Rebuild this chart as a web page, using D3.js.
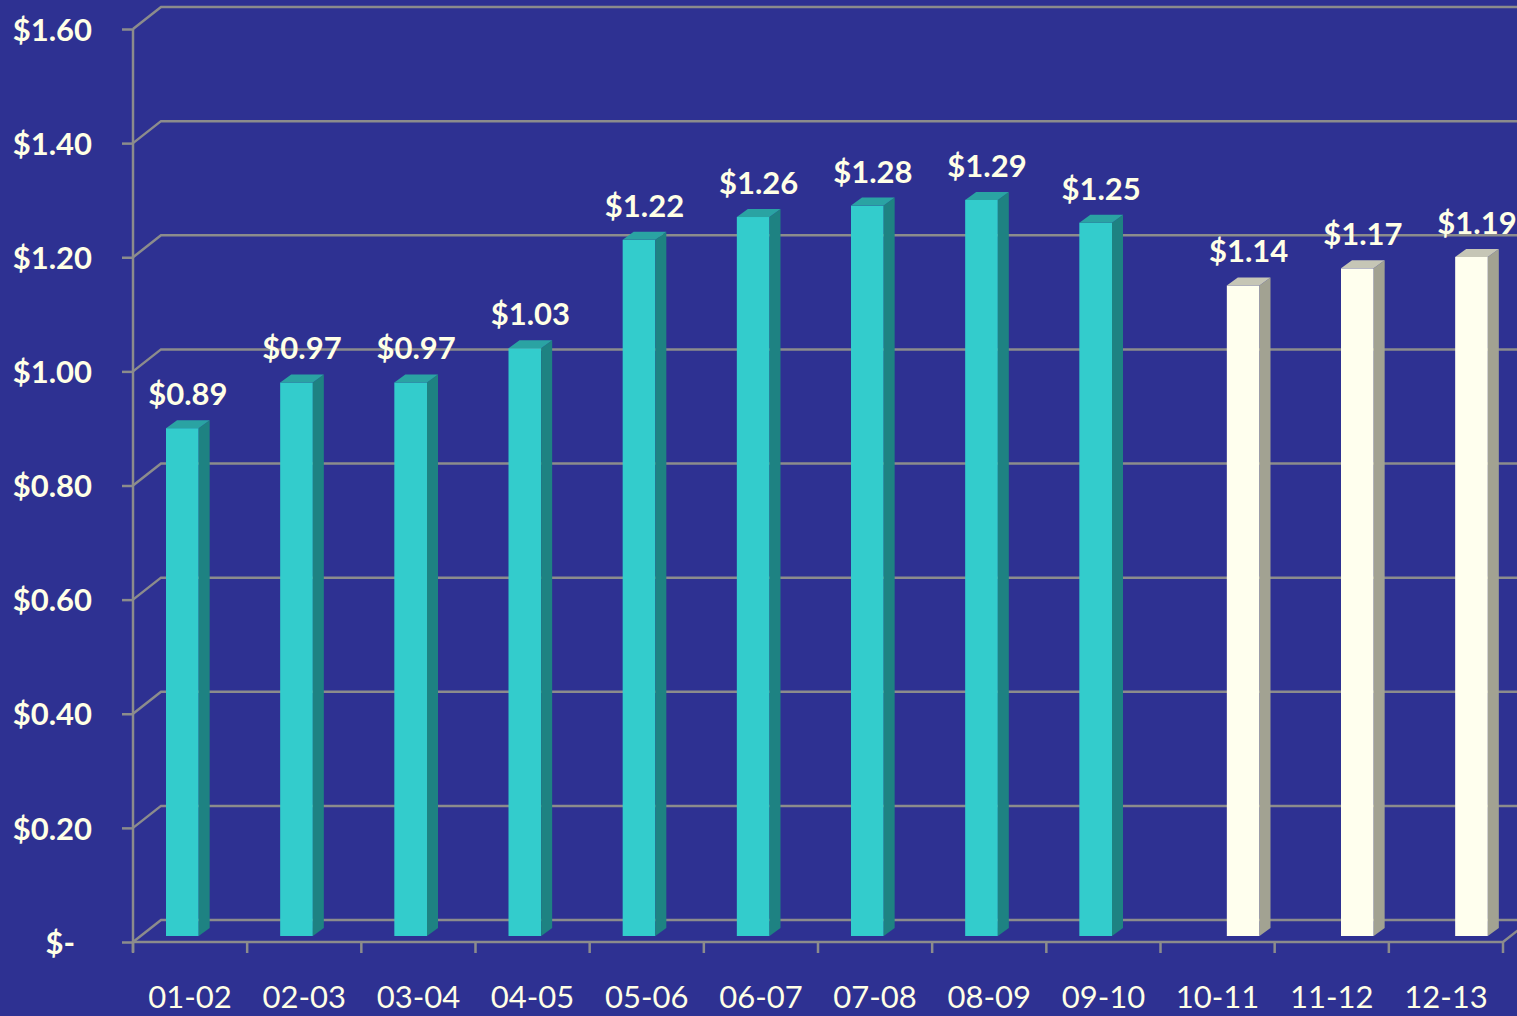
<!DOCTYPE html>
<html>
<head>
<meta charset="utf-8">
<script src="https://cdn.jsdelivr.net/npm/d3@7"></script>
<style>
  html, body { margin: 0; padding: 0; background: #2E3192; overflow: hidden; }
  text { font-family: Lato, "Open Sans", sans-serif; fill: #FFFFE6; }
</style>
</head>
<body>
<svg id="chart" width="1517" height="1016"></svg>
<script>
// data
const seasons = ["01-02","02-03","03-04","04-05","05-06","06-07","07-08","08-09","09-10","10-11","11-12","12-13"];
const actual = [0.89, 0.97, 0.97, 1.03, 1.22, 1.26, 1.28, 1.29, 1.25, null, null, null];
const projected = [null, null, null, null, null, null, null, null, null, 1.14, 1.17, 1.19];
const yTicks = [0, 0.2, 0.4, 0.6, 0.8, 1.0, 1.2, 1.4, 1.6];

const W = 1517, H = 1016;
const left = 133, right = 1503, floorY = 942, topY = 29;
const wallDx = 28, wallDy = 22;   // depth of back wall
const barDx = 11, barDy = 8;      // depth of each bar
const barLift = 6;                // bars sit slightly behind the front edge

const svg = d3.select("#chart");
svg.append("rect").attr("width", W).attr("height", H).attr("fill", "#2E3192");

const y = d3.scaleLinear().domain([0, 1.6]).range([floorY, topY]);
const x0 = d3.scaleBand().domain(seasons).range([left, right]).padding(0);
const x1 = d3.scaleBand().domain(["actual", "projected"]).range([33, 99]).paddingInner(0.02);

const grid = svg.append("g").attr("stroke", "#8C8C8C").attr("stroke-width", 2.5).attr("fill", "none");

// back wall gridlines + diagonals on the left wall
yTicks.forEach(v => {
  const fy = y(v), by = y(v) - wallDy;
  if (v > 0) {
    grid.append("path").attr("d", `M${left},${fy}L${left + wallDx},${by}L${W + 5},${by}`);
  }
});
// floor
grid.append("path").attr("d", `M${left},${floorY}L${left + wallDx},${floorY - wallDy}L${W + 5},${floorY - wallDy}`);
grid.append("path").attr("d", `M${left},${floorY}L${right},${floorY}L${right + wallDx},${floorY - wallDy}`);

// y axis
const yAxis = d3.axisLeft(y).tickValues(yTicks).tickSize(11).tickPadding(0)
  .tickFormat(v => v === 0 ? "$-" : "$" + v.toFixed(2));
const gy = svg.append("g").attr("transform", `translate(${left},0)`).call(yAxis);
gy.select(".domain").attr("stroke", "#8C8C8C").attr("stroke-width", 2.5)
  .attr("d", `M0,${topY}V${floorY + 10}`);
gy.selectAll(".tick line").attr("stroke", "#8C8C8C").attr("stroke-width", 2.5);
gy.selectAll(".tick text")
  .attr("x", d => d === 0 ? -58 : -41)
  .attr("dy", "0.36em")
  .attr("fill", "#FFFFE6")
  .style("font-size", "31px").style("font-weight", "700");

// x axis: ticks on band boundaries, labels centred
const gx = svg.append("g").attr("transform", `translate(0,${floorY})`)
  .call(d3.axisBottom(x0).tickSize(0).tickPadding(0));
gx.select(".domain").remove();
gx.selectAll(".tick text").attr("y", 66).attr("dy", 0)
  .attr("fill", "#FFFFE6").style("font-size", "31px").style("font-weight", "400");
const bounds = seasons.map(s => x0(s)).concat([x0(seasons[seasons.length - 1]) + x0.bandwidth()]);
svg.append("g").selectAll("line").data(bounds).join("line")
  .attr("x1", d => d).attr("x2", d => d)
  .attr("y1", floorY).attr("y2", floorY + 11)
  .attr("stroke", "#8C8C8C").attr("stroke-width", 2.5);

// bars
const styles = {
  actual:    { front: "#33CCCC", side: "#1E8282", top: "#2AA3A3" },
  projected: { front: "#FFFFEE", side: "#A2A292", top: "#C6C6B6" }
};
const bars = [];
seasons.forEach((s, i) => {
  if (actual[i] != null) bars.push({ s, key: "actual", v: actual[i] });
  if (projected[i] != null) bars.push({ s, key: "projected", v: projected[i] });
});

const base = y(0) - barLift;
const bh = v => y(0) - y(v);
const bw = x1.bandwidth();

const g = svg.append("g").selectAll("g").data(bars).join("g");
g.each(function (d) {
  const el = d3.select(this);
  const st = styles[d.key];
  const fx = x0(d.s) + x1(d.key);
  const ty = base - bh(d.v);
  el.append("rect").attr("x", fx).attr("y", ty).attr("width", bw).attr("height", base - ty)
    .attr("fill", st.front);
  el.append("path")
    .attr("d", `M${fx + bw},${ty}L${fx + bw + barDx},${ty - barDy}L${fx + bw + barDx},${base - barDy}L${fx + bw},${base}Z`)
    .attr("fill", st.side);
  el.append("path")
    .attr("d", `M${fx},${ty}L${fx + barDx},${ty - barDy}L${fx + bw + barDx},${ty - barDy}L${fx + bw},${ty}Z`)
    .attr("fill", st.top);
  el.append("text")
    .attr("x", fx + (bw + barDx) / 2)
    .attr("y", ty - 23)
    .attr("text-anchor", "middle")
    .style("font-size", "31px").style("font-weight", "700")
    .text("$" + d.v.toFixed(2));
});
</script>
</body>
</html>
